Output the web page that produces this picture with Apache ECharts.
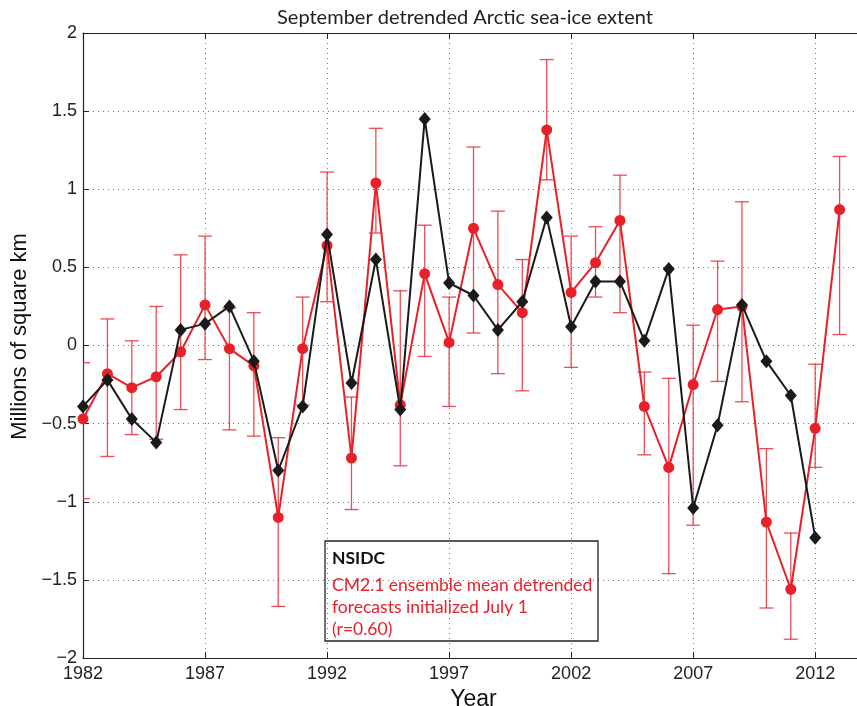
<!DOCTYPE html>
<html>
<head>
<meta charset="utf-8">
<script src="https://cdn.jsdelivr.net/npm/echarts@6/dist/echarts.min.js"></script>
<style>
html,body{margin:0;padding:0;background:#fff;}
#chart{width:857px;height:706px;}
</style>
</head>
<body>
<div id="chart"></div>
<script>
const years = [1982,1983,1984,1985,1986,1987,1988,1989,1990,1991,1992,1993,1994,1995,1996,1997,1998,1999,2000,2001,2002,2003,2004,2005,2006,2007,2008,2009,2010,2011,2012,2013];
const nsidc = [-0.39,-0.22,-0.47,-0.62,0.10,0.14,0.25,-0.10,-0.80,-0.39,0.71,-0.24,0.55,-0.41,1.45,0.40,0.32,0.10,0.28,0.82,0.12,0.41,0.41,0.03,0.49,-1.04,-0.51,0.26,-0.10,-0.32,-1.23,null];
const cm21 = [-0.47,-0.18,-0.27,-0.20,-0.04,0.26,-0.02,-0.13,-1.10,-0.02,0.64,-0.72,1.04,-0.38,0.46,0.02,0.75,0.39,0.21,1.38,0.34,0.53,0.80,-0.39,-0.78,-0.25,0.23,0.25,-1.13,-1.56,-0.53,0.87];
const errLow = [-0.98,-0.71,-0.57,-0.60,-0.41,-0.09,-0.54,-0.58,-1.67,-0.38,0.28,-1.05,0.72,-0.77,-0.07,-0.39,0.08,-0.18,-0.29,1.06,-0.14,0.31,0.21,-0.70,-1.46,-1.15,-0.23,-0.36,-1.68,-1.88,-0.78,0.07];
const errHigh = [-0.11,0.17,0.03,0.25,0.58,0.70,0.24,0.21,-0.59,0.31,1.11,-0.33,1.39,0.35,0.77,0.31,1.27,0.86,0.55,1.83,0.70,0.76,1.09,-0.17,-0.21,0.13,0.54,0.92,-0.66,-1.20,-0.12,1.21];
const titleText = 'September detrended Arctic sea-ice extent';
const legendLines = ['NSIDC', 'CM2.1 ensemble mean detrended', 'forecasts initialized July 1', '(r=0.60)'];

const RED = '#e8202a';
const BLACK = '#1a1a1a';
const tickFont = 'Liberation Sans';
const textFont = 'Lato';

const chart = echarts.init(document.getElementById('chart'), null, {renderer: 'canvas'});

const fmtY = v => (v < 0 ? '\u2212' : '') + Math.abs(v);
const fmtX = v => String(v);

const option = {
  animation: false,
  backgroundColor: '#fff',
  title: {
    text: titleText,
    left: 460, top: 3, textAlign: 'center',
    textStyle: {fontFamily: textFont, fontWeight: 'normal', fontSize: 20, color: '#222'}
  },
  grid: {left: 83, top: 33, width: 781, height: 625, containLabel: false, outerBoundsMode: 'none'},
  xAxis: [{
    type: 'value', min: 1982, max: 2014, interval: 5,
    name: 'Year', nameLocation: 'middle', nameGap: 26,
    nameTextStyle: {fontFamily: tickFont, fontSize: 23, color: '#111'},
    axisLine: {show: true, onZero: false, lineStyle: {color: '#222', width: 1.2}},
    axisTick: {show: true, inside: true, length: 6, lineStyle: {color: '#222'}},
    axisLabel: {show: true, margin: 7, fontFamily: tickFont, fontSize: 18, color: '#222', showMaxLabel: false, formatter: fmtX},
    splitLine: {show: true, lineStyle: {type: [1, 4], color: '#777', width: 1}}
  }, {
    type: 'value', position: 'top', min: 1982, max: 2014, interval: 5,
    axisLine: {show: true, onZero: false, lineStyle: {color: '#222', width: 1.2}},
    axisTick: {show: true, inside: true, length: 6, lineStyle: {color: '#222'}},
    axisLabel: {show: false},
    splitLine: {show: false}
  }],
  yAxis: {
    type: 'value', min: -2, max: 2, interval: 0.5,
    name: 'Millions of square km', nameLocation: 'middle', nameGap: 50,
    nameTextStyle: {fontFamily: tickFont, fontSize: 22, color: '#111', padding: [0, 0, 0, 18]},
    axisLine: {show: true, onZero: false, lineStyle: {color: '#222', width: 1.2}},
    axisTick: {show: true, inside: true, length: 6, lineStyle: {color: '#222'}},
    axisLabel: {show: true, margin: 6, fontFamily: tickFont, fontSize: 18, color: '#222', formatter: fmtY},
    splitLine: {show: true, lineStyle: {type: [1, 4], color: '#777', width: 1}}
  },
  graphic: [
    {type: 'rect', shape: {x: 325, y: 541, width: 273, height: 100}, style: {fill: 'none', stroke: '#222', lineWidth: 1.3}, z: 100},
    {type: 'text', x: 332, y: 558, style: {text: legendLines[0], fill: '#111', font: 'bold 17.5px ' + textFont, textVerticalAlign: 'middle'}, z: 100},
    {type: 'text', x: 332, y: 585, style: {text: legendLines[1], fill: RED, font: '17.5px ' + textFont, textVerticalAlign: 'middle'}, z: 100},
    {type: 'text', x: 332, y: 607, style: {text: legendLines[2], fill: RED, font: '17.5px ' + textFont, textVerticalAlign: 'middle'}, z: 100},
    {type: 'text', x: 332, y: 629, style: {text: legendLines[3], fill: RED, font: '17.5px ' + textFont, textVerticalAlign: 'middle'}, z: 100}
  ],
  series: [{
    type: 'custom',
    clip: true,
    data: years.map((y, i) => [y, errLow[i], errHigh[i]]),
    encode: {x: 0, y: [1, 2]},
    renderItem: function (params, api) {
      const x = api.value(0);
      const lo = api.coord([x, api.value(1)]);
      const hi = api.coord([x, api.value(2)]);
      const w = 7;
      const st = {stroke: 'rgba(232,32,42,0.8)', lineWidth: 1.3};
      return {
        type: 'group',
        children: [
          {type: 'line', shape: {x1: lo[0], y1: lo[1], x2: hi[0], y2: hi[1]}, style: st},
          {type: 'line', shape: {x1: lo[0] - w, y1: lo[1], x2: lo[0] + w, y2: lo[1]}, style: st},
          {type: 'line', shape: {x1: hi[0] - w, y1: hi[1], x2: hi[0] + w, y2: hi[1]}, style: st}
        ]
      };
    },
    z: 1
  }, {
    type: 'line',
    data: years.map((y, i) => [y, cm21[i]]),
    symbol: 'circle', symbolSize: 11,
    lineStyle: {color: RED, width: 2},
    itemStyle: {color: RED},
    z: 2
  }, {
    type: 'line',
    data: years.map((y, i) => [y, nsidc[i]]),
    symbol: 'diamond', symbolSize: [12, 14],
    lineStyle: {color: BLACK, width: 2},
    itemStyle: {color: BLACK},
    z: 3
  }]
};
chart.setOption(option);
</script>
</body>
</html>
